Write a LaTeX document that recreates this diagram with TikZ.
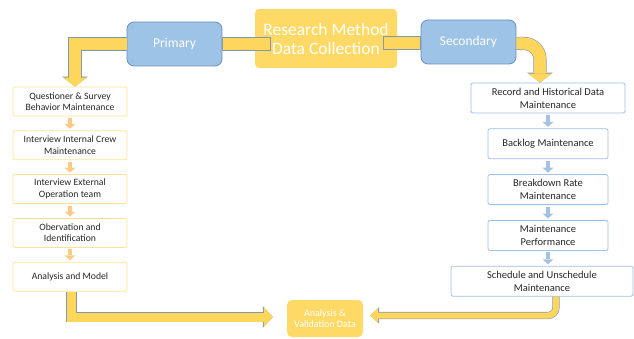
\documentclass[tikz,border=0pt]{standalone}
\usepackage{fontspec}
\setmainfont{Carlito}
\usetikzlibrary{arrows.meta, positioning, calc}
\definecolor{MethodGold}{RGB}{255, 217, 102}
\definecolor{ArrowGold}{RGB}{255, 214, 92}
\definecolor{ArrowEdge}{RGB}{132, 151, 176}
\definecolor{PhaseBlue}{RGB}{157, 195, 230}
\definecolor{PhaseEdge}{RGB}{109, 142, 190}
\definecolor{PrimEdge}{RGB}{255, 226, 145}
\definecolor{SecEdge}{RGB}{160, 192, 228}
\definecolor{StepOrange}{RGB}{250, 203, 135}
\definecolor{StepBlue}{RGB}{165, 194, 230}
\definecolor{BoxText}{RGB}{38, 38, 38}

\begin{document}
\begin{tikzpicture}[
    x=1pt, y=-1pt,
    node distance=14pt,
    % Styles
    method/.style={rectangle, rounded corners=4pt, fill=MethodGold, text=white, minimum width=142pt, minimum height=59pt, inner sep=1pt, align=center, font=\fontsize{17.5}{19}\selectfont},
    phase/.style={rectangle, rounded corners=7pt, draw=PhaseEdge, line width=0.8pt, fill=PhaseBlue, text=white, minimum width=95pt, minimum height=44pt, font=\fontsize{13.5}{15}\selectfont},
    primbox/.style={rectangle, rounded corners=2pt, draw=PrimEdge, line width=0.8pt, fill=white, text=BoxText, minimum width=114pt, minimum height=29pt, inner sep=1pt, align=center, font=\fontsize{9.7}{11.5}\selectfont},
    secbox/.style={rectangle, rounded corners=2pt, draw=SecEdge, line width=0.8pt, fill=white, text=BoxText, minimum width=120pt, minimum height=30pt, inner sep=1pt, align=center, font=\fontsize{10.5}{12.8}\selectfont},
    result/.style={rectangle, rounded corners=5pt, fill=MethodGold, text=white, minimum width=76pt, minimum height=37pt, inner sep=1pt, align=center, font=\fontsize{10}{11}\selectfont},
    bandbar/.style={draw=ArrowEdge, line width=0.6pt, fill=ArrowGold},
    bigarrow/.style={line width=12pt, draw=ArrowGold, -{Triangle[length=9pt, width=24pt, line width=0pt]}, preaction={draw=ArrowEdge, line width=13.2pt, -{Triangle[length=10pt, width=25.6pt, line width=0pt]}}},
    midarrow/.style={line width=9pt, draw=ArrowGold, -{Triangle[length=9pt, width=20pt, line width=0pt]}, preaction={draw=ArrowEdge, line width=10.2pt, -{Triangle[length=10pt, width=21.6pt, line width=0pt]}}},
    thinarrow/.style={line width=6pt, draw=ArrowGold, -{Triangle[length=8pt, width=15pt, line width=0pt]}, preaction={draw=ArrowEdge, line width=7.2pt, -{Triangle[length=9pt, width=16.6pt, line width=0pt]}}},
    primflow/.style={line width=4.5pt, draw=StepOrange, -{Triangle[length=5pt, width=11pt, line width=0pt]}, shorten <=1.5pt, shorten >=1.5pt},
    secflow/.style={line width=4.5pt, draw=StepBlue, -{Triangle[length=5pt, width=11pt, line width=0pt]}, shorten <=1.5pt, shorten >=1.5pt}
]
\useasboundingbox (0,0) rectangle (634,339);

% ==========================================================================================
% TOP: METHOD AND PHASES
% ==========================================================================================

\node[method] (method) at (326, 38.5) {Research Method\\Data Collection};
\node[phase] (primary) at (174.5, 44) {Primary};
\node[phase] (secondary) at (468.5, 42) {Secondary};

% Bars into the method box
\draw[bandbar] ($(primary.east)+(0,-6.5)$) rectangle ($(primary.east -| method.west)+(15,6.5)$);
\draw[bandbar] ($(secondary.west)+(0,-5.5)$) rectangle ($(secondary.west -| method.east)+(-14,7.5)$);

% ==========================================================================================
% PRIMARY (Left Column)
% ==========================================================================================

\node[primbox] (quest) at (70, 101.5) {Questioner \& Survey\\Behavior Maintenance};
\node[primbox, below=of quest] (crew) {Interview Internal Crew\\Maintenance};
\node[primbox, below=of crew] (external) {Interview External\\Operation team};
\node[primbox, below=of external] (observe) {Obervation and\\Identification};
\node[primbox, below=of observe] (model) {Analysis and Model};

% Small arrows
\draw[primflow] (quest) -- (crew);
\draw[primflow] (crew) -- (external);
\draw[primflow] (external) -- (observe);
\draw[primflow] (observe) -- (model);

% ==========================================================================================
% SECONDARY (Right Column)
% ==========================================================================================

\node[secbox, minimum width=154pt] (record) at (548, 98) {Record and Historical Data\\Maintenance};
\node[secbox, below=15pt of record] (backlog) {Backlog Maintenance};
\node[secbox, below=15pt of backlog] (breakdown) {Breakdown Rate\\Maintenance};
\node[secbox, below=15pt of breakdown] (performance) {Maintenance\\Performance};
\node[secbox, below=15pt of performance, xshift=-6pt, minimum width=182pt] (schedule) {Schedule and Unschedule\\Maintenance};

% Small arrows
\draw[secflow] (record) -- (backlog);
\draw[secflow] (backlog) -- (breakdown);
\draw[secflow] (breakdown) -- (performance);
\draw[secflow] (performance.south) -- (performance.south |- schedule.north);

% ==========================================================================================
% RESULT
% ==========================================================================================

\node[result] (analysis) at (325, 318.5) {Analysis \&\\Validation Data};

% Big arrows
\draw[bigarrow] (primary.west) -| ($(quest.north)+(5,0)$);
\draw[bigarrow, rounded corners=16pt] ($(secondary.east)+(0,1.5)$) -| ($(record.north)+(-8,0)$);
\draw[midarrow] ($(model.south)+(1.5,0)$) |- ($(analysis.west)+(-14,-1.5)$);
\draw[thinarrow, rounded corners=8pt] ($(schedule.south)+(14,0)$) |- ($(analysis.east)+(7,-3)$);

\end{tikzpicture}
\end{document}
